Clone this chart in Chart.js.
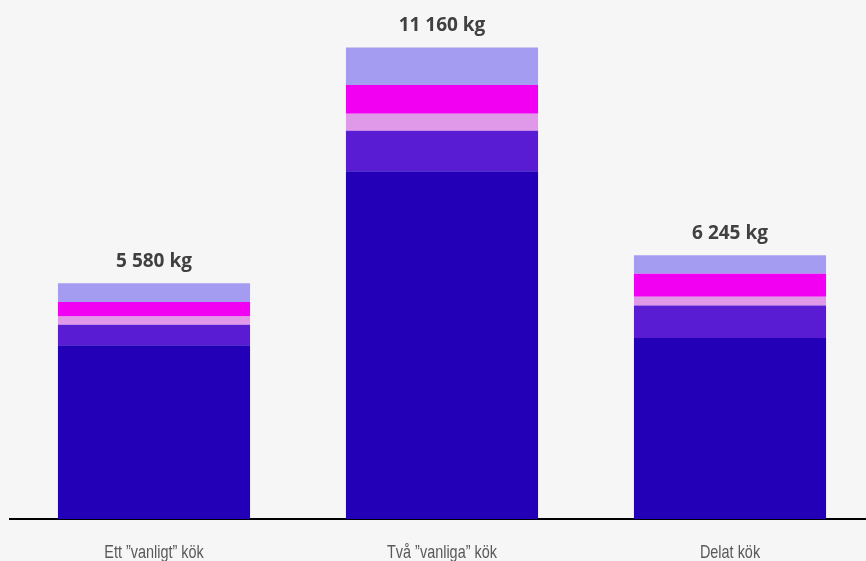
<!DOCTYPE html>
<html>
<head>
<meta charset="utf-8">
<script src="https://cdn.jsdelivr.net/npm/chart.js"></script>
<style>
  html, body { margin: 0; padding: 0; background: #f6f6f6; overflow: hidden; }
  #wrap { width: 874px; height: 561px; }
</style>
</head>
<body>
<div id="wrap"><canvas id="kitchenChart"></canvas></div>
<script>
// --- data (kg per category, stacked bottom to top) ---
const categories = ["Ett ”vanligt” kök", "Två ”vanliga” kök", "Delat kök"];
const baseKg     = [4115, 8230, 4285];
const violetKg   = [480, 960, 770];
const pinkKg     = [200, 400, 205];
const magentaKg  = [340, 680, 545];
const topKg      = [445, 890, 440];
const totalLabels = ["5 580 kg", "11 160 kg", "6 245 kg"];

const layers = [
  { data: baseKg,    color: "#2300b8" },
  { data: violetKg,  color: "#5a1cd2" },
  { data: pinkKg,    color: "#e098e8" },
  { data: magentaKg, color: "#f200f2" },
  { data: topKg,     color: "#a39cf0" }
];

// totals above each bar + narrow category names under the axis
const labelsPlugin = {
  id: "labels",
  afterDatasetsDraw(chart) {
    const ctx = chart.ctx;
    const meta = chart.getDatasetMeta(chart.data.datasets.length - 1);
    const xScale = chart.scales.x;
    ctx.save();
    ctx.font = "bold 19px 'Open Sans', sans-serif";
    ctx.fillStyle = "#404040";
    ctx.textAlign = "center";
    ctx.textBaseline = "alphabetic";
    meta.data.forEach((bar, i) => {
      ctx.fillText(totalLabels[i], bar.x, bar.y - 16.5);
    });
    ctx.font = "19px 'Liberation Sans', sans-serif";
    ctx.fillStyle = "#595959";
    categories.forEach((name, i) => {
      const x = xScale.getPixelForValue(i);
      ctx.save();
      ctx.translate(x, 558);
      ctx.scale(0.76, 1);
      ctx.fillText(name, 0, 0);
      ctx.restore();
    });
    ctx.restore();
  }
};

const ctx = document.getElementById("kitchenChart").getContext("2d");
new Chart(ctx, {
  type: "bar",
  data: {
    labels: categories,
    datasets: layers.map(l => ({
      data: l.data,
      backgroundColor: l.color,
      borderWidth: 0,
      barPercentage: 0.667,
      categoryPercentage: 1
    }))
  },
  options: {
    responsive: true,
    maintainAspectRatio: false,
    animation: false,
    layout: { padding: { top: 12, left: 10, right: 0, bottom: 34 } },
    plugins: { legend: { display: false }, tooltip: { enabled: false } },
    scales: {
      x: {
        stacked: true,
        grid: { display: false },
        border: { color: "#000", width: 2 },
        ticks: { display: false }
      },
      y: {
        stacked: true,
        display: false,
        min: 0,
        max: 12000
      }
    }
  },
  plugins: [labelsPlugin]
});
</script>
</body>
</html>
